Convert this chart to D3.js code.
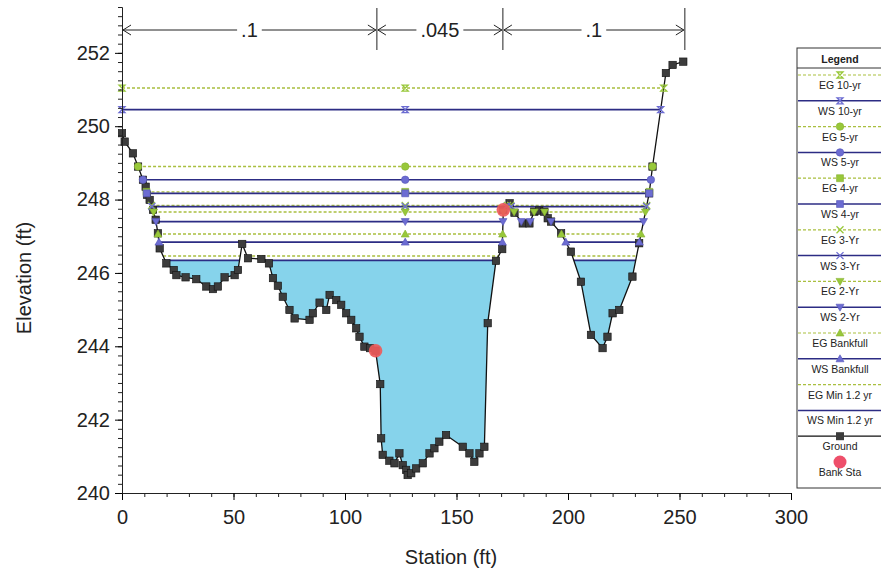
<!DOCTYPE html>
<html><head><meta charset="utf-8">
<script src="https://cdn.jsdelivr.net/npm/d3@7/dist/d3.min.js"></script>
<style>body{margin:0;background:#fff;} svg{display:block;font-family:"Liberation Sans",Arial,sans-serif;}</style>
</head><body><svg id="c" width="881" height="573"></svg>
<script>
// ---------- data ----------
const groundStation = [0,1.2,4.9,7.2,9.4,10.6,11.2,12.4,13.9,15.1,16.1,16.9,19.9,23.2,24.4,28.5,33.3,37.8,40.8,43.0,46.0,50.5,52.0,53.9,56.5,62.5,65.9,67.7,69.9,72.1,75.1,77.4,84.1,85.6,88.6,91.6,93.1,96.1,98.3,100.5,102.8,105.0,106.5,108.7,111.3,113.7,115.8,116.2,116.9,119.9,122.2,124.4,125.9,127.4,128.1,129.7,131.9,134.9,137.9,140.1,142.3,145.3,152.8,155.8,158.0,160.3,162.5,164.0,167.7,170.5,171.0,173.8,176.0,179.7,182.7,184.9,187.1,189.4,190.9,192.4,196.9,201.3,205.8,210.3,215.5,217.7,220.0,223.0,228.9,231.9,236.4,237.9,243.9,246.9,251.7];
const groundElev = [249.81,249.58,249.26,248.90,248.54,248.35,248.13,247.99,247.72,247.45,247.08,246.67,246.26,246.08,245.94,245.88,245.83,245.63,245.56,245.63,245.88,245.94,246.08,246.79,246.40,246.38,246.26,245.86,245.65,245.35,244.99,244.76,244.72,244.90,245.19,244.99,245.40,245.26,245.13,244.90,244.72,244.49,244.26,243.99,243.95,243.88,242.97,241.49,241.04,240.88,240.81,241.08,240.76,240.63,240.49,240.54,240.67,240.81,241.08,241.22,241.40,241.58,241.26,241.08,240.85,241.08,241.26,244.63,246.33,246.65,247.72,247.90,247.64,247.35,247.35,247.67,247.70,247.67,247.49,247.40,247.08,246.58,245.76,244.31,243.95,244.26,244.90,244.99,245.90,246.81,248.17,248.90,251.45,251.67,251.76];
const bankStation = [113.7, 171.0];
const bankElev = [243.88, 247.72];
const profileNames = ["EG 10-yr","WS 10-yr","EG 5-yr","WS 5-yr","EG 4-yr","WS 4-yr","EG 3-Yr","WS 3-Yr","EG 2-Yr","WS 2-Yr","EG Bankfull","WS Bankfull","EG Min 1.2 yr","WS Min 1.2 yr"];
const profileLevels = [251.04,250.45,248.90,248.54,248.21,248.17,247.84,247.81,247.66,247.40,247.06,246.84,246.46,246.34];
const profileMarkers = ["hourglass","hourglass","circle","circle","square","square","x","x","tridown","tridown","triup","triup","none","none"];
const nBreaks = [0, 114.3, 170.8, 252.4];
const nValues = [".1", ".045", ".1"];
const xTicks = [0,50,100,150,200,250,300];
const yTicks = [240,242,244,246,248,250,252];
const legendLabels = profileNames.concat(["Ground","Bank Sta"]);

// ---------- setup ----------
const svg = d3.select("#c");
const x = d3.scaleLinear().domain([0,300]).range([122,791]);
const y = d3.scaleLinear().domain([240,253.25]).range([493,7]);
const EGC = "#a9bf3f", EGM = "#98c83a", WSC = "#2c2c84", WSM = "#6c6cd2";
const FILL = "#86d3eb";

function markerPath(type){
  switch(type){
    case "circle": return d3.symbol(d3.symbolCircle, 44)();
    case "square": return d3.symbol(d3.symbolSquare, 48)();
    case "x": return "M-3.5,-3.5L3.5,3.5M-3.5,3.5L3.5,-3.5";
    case "tridown": return "M-4,-3L4,-3L0,4Z";
    case "triup": return "M-4,3L4,3L0,-4Z";
    case "hourglass": return "M-3,-3L3,-3L-3,3L3,3Z";
  }
  return null;
}
function drawMarker(g, type, cx, cy, isEG){
  const p = markerPath(type); if(!p) return;
  const col = isEG ? EGM : WSM;
  const m = g.append("path").attr("d", p).attr("transform", `translate(${cx},${cy})`);
  if(type === "x" || type === "hourglass"){
    m.attr("fill", "none").attr("stroke", col).attr("stroke-width", 1.3);
  } else {
    m.attr("fill", col).attr("stroke", isEG ? "#86b030" : "#5656b8").attr("stroke-width", 0.6);
  }
}

// wetted segments where ground < level
function segments(level){
  const segs = []; let cur = null;
  const n = groundStation.length;
  for(let i=0;i<n;i++){
    const s = groundStation[i], e = groundElev[i];
    if(i===0){ if(e < level) cur = [s]; continue; }
    const s0 = groundStation[i-1], e0 = groundElev[i-1];
    if((e0 < level) !== (e < level)){
      const t = (level - e0)/(e - e0);
      const sc = s0 + t*(s - s0);
      if(cur){ cur.push(sc); segs.push(cur); cur = null; } else { cur = [sc]; }
    }
  }
  if(cur){ cur.push(groundStation[n-1]); segs.push(cur); }
  return segs;
}

// ---------- water fill (lowest WS) ----------
const wsMin = profileLevels[13];
const fillG = svg.append("g");
segments(wsMin).forEach(([a,b])=>{
  const pts = [[a, wsMin]];
  groundStation.forEach((s,i)=>{ if(s>a && s<b) pts.push([s, groundElev[i]]); });
  pts.push([b, wsMin]);
  fillG.append("path").attr("d", d3.line().x(d=>x(d[0])).y(d=>y(d[1]))(pts)+"Z")
    .attr("fill", FILL).attr("stroke", "none");
});

// ---------- profile lines ----------
const lineG = svg.append("g");
profileLevels.forEach((lev, k)=>{
  const isEG = profileNames[k].startsWith("EG");
  segments(lev).forEach(([a,b])=>{
    lineG.append("line").attr("x1", x(a)).attr("x2", x(b)).attr("y1", y(lev)).attr("y2", y(lev))
      .attr("stroke", isEG ? EGC : WSC).attr("stroke-width", isEG ? 1.4 : 1.7)
      .attr("stroke-dasharray", isEG ? "3,2" : null);
  });
});

// ---------- ground ----------
const gd = groundStation.map((s,i)=>[s, groundElev[i]]);
svg.append("path").attr("d", d3.line().x(d=>x(d[0])).y(d=>y(d[1]))(gd))
  .attr("fill","none").attr("stroke","#111").attr("stroke-width",1.3);
svg.append("g").selectAll("rect").data(gd).join("rect")
  .attr("x", d=>x(d[0])-3.7).attr("y", d=>y(d[1])-3.7).attr("width",7.4).attr("height",7.4)
  .attr("fill","#3c3c3c").attr("stroke","#111").attr("stroke-width",0.6);

// profile markers on top
const markG = svg.append("g");
profileLevels.forEach((lev, k)=>{
  const isEG = profileNames[k].startsWith("EG");
  segments(lev).forEach(([a,b])=>{
    drawMarker(markG, profileMarkers[k], x(a), y(lev), isEG);
    drawMarker(markG, profileMarkers[k], x(b), y(lev), isEG);
    if(a < 127 && b > 127) drawMarker(markG, profileMarkers[k], x(127), y(lev), isEG);
  });
});

// bank stations
svg.append("g").selectAll("circle").data(bankStation).join("circle")
  .attr("cx", d=>x(d)).attr("cy", (d,i)=>y(bankElev[i])).attr("r", 6.8)
  .attr("fill","#ee5a5a").attr("fill-opacity",0.92);

// ---------- axes ----------
const ax = svg.append("g").attr("transform","translate(0,493)");
ax.call(d3.axisBottom(x).tickValues(d3.range(0,301,10)).tickSize(4).tickSizeOuter(0).tickFormat(""));
ax.selectAll(".tick line").attr("stroke","#222");
ax.select(".domain").attr("stroke","#222");
const axM = svg.append("g").attr("transform","translate(0,493)")
  .call(d3.axisBottom(x).tickValues(xTicks).tickSize(7).tickSizeOuter(0).tickPadding(10));
axM.select(".domain").attr("stroke","#222");
axM.selectAll("text").attr("font-size",20).attr("fill","#222").attr("font-family","Liberation Sans, Arial, sans-serif");

const ay = svg.append("g").attr("transform","translate(122,0)");
ay.call(d3.axisLeft(y).tickValues(d3.range(240,253.26,0.25)).tickSize(4).tickSizeOuter(0).tickFormat(""));
ay.select(".domain").attr("stroke","#222");
ay.selectAll(".tick line").attr("stroke","#222");
const ayM = svg.append("g").attr("transform","translate(122,0)")
  .call(d3.axisLeft(y).tickValues(yTicks).tickSize(7).tickSizeOuter(0).tickPadding(5));
ayM.select(".domain").attr("stroke","#222");
ayM.selectAll("text").attr("font-size",20).attr("fill","#222").attr("font-family","Liberation Sans, Arial, sans-serif");

svg.append("text").attr("transform","translate(31,278) rotate(-90)").attr("text-anchor","middle")
  .attr("font-size",20).attr("fill","#222").text("Elevation (ft)");
svg.append("text").attr("x",451).attr("y",564).attr("text-anchor","middle")
  .attr("font-size",20).attr("fill","#222").text("Station (ft)");

// ---------- Manning's n bar ----------
const nG = svg.append("g").attr("stroke","#222").attr("stroke-width",1);
nBreaks.forEach(b=>{ if(b>0) nG.append("line").attr("x1",x(b)).attr("x2",x(b)).attr("y1",8).attr("y2",50); });
const arrowY = 30;
nValues.forEach((v,i)=>{
  const a = x(nBreaks[i]), b = x(nBreaks[i+1]), m = (a+b)/2;
  const t = svg.append("text").attr("x",m).attr("y",arrowY+7).attr("text-anchor","middle")
    .attr("font-size",20).attr("fill","#222").text(v);
  const w = t.node().getComputedTextLength();
  nG.append("line").attr("x1",a+1).attr("x2",m-w/2-4).attr("y1",arrowY).attr("y2",arrowY);
  nG.append("line").attr("x1",m+w/2+4).attr("x2",b-1).attr("y1",arrowY).attr("y2",arrowY);
  nG.append("path").attr("fill","none").attr("d",`M${a+9},${arrowY-5}L${a+1},${arrowY}L${a+9},${arrowY+5}`);
  nG.append("path").attr("fill","none").attr("d",`M${b-9},${arrowY-5}L${b-1},${arrowY}L${b-9},${arrowY+5}`);
});

// ---------- legend ----------
const lg = svg.append("g").attr("font-size",10.5).attr("fill","#222");
lg.append("rect").attr("x",797).attr("y",48).attr("width",95).attr("height",440)
  .attr("fill","#fff").attr("stroke","#333").attr("stroke-width",1);
lg.append("text").attr("x",840).attr("y",63).attr("text-anchor","middle").attr("font-weight","bold").text("Legend");
lg.append("line").attr("x1",797).attr("x2",881).attr("y1",68).attr("y2",68).attr("stroke","#333");
legendLabels.forEach((lab,i)=>{
  const ly = 75 + i*25.8;
  if(i < 14){
    const isEG = lab.startsWith("EG");
    lg.append("line").attr("x1",798).attr("x2",881).attr("y1",ly).attr("y2",ly)
      .attr("stroke", isEG ? EGC : WSC).attr("stroke-width", isEG ? 1.2 : 1.5)
      .attr("stroke-dasharray", isEG ? "3,2" : null);
    drawMarker(lg, profileMarkers[i], 840, ly, isEG);
  } else if(i === 14){
    lg.append("line").attr("x1",798).attr("x2",881).attr("y1",ly).attr("y2",ly).attr("stroke","#111").attr("stroke-width",1.3);
    lg.append("rect").attr("x",836).attr("y",ly-4).attr("width",8).attr("height",8).attr("fill","#3c3c3c");
  } else {
    lg.append("circle").attr("cx",840).attr("cy",ly).attr("r",6.5).attr("fill","#ee4f6a");
  }
  lg.append("text").attr("x",840).attr("y",ly+14).attr("text-anchor","middle").text(lab);
});
</script></body></html>
